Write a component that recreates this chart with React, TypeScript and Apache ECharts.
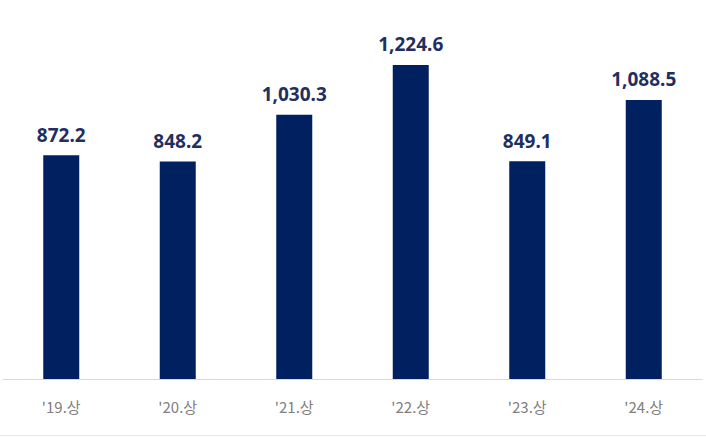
import React, { useEffect, useRef } from "react";
import * as echarts from "echarts";

const categories = ["'19.상", "'20.상", "'21.상", "'22.상", "'23.상", "'24.상"];
const values = [872.2, 848.2, 1030.3, 1224.6, 849.1, 1088.5];

export default function App() {
  const ref = useRef<HTMLDivElement>(null);
  useEffect(() => {
    if (!ref.current) return;
    const chart = echarts.init(ref.current, null, { renderer: "svg" });
    chart.setOption({
      animation: false,
      backgroundColor: "#ffffff",
      grid: { left: 3, right: 4, top: 20, bottom: 58, containLabel: false },
      xAxis: {
        type: "category",
        data: categories,
        axisLine: { show: true, lineStyle: { color: "#d9d9d9", width: 1 } },
        axisTick: { show: false },
        axisLabel: {
          color: "#808080",
          fontSize: 15,
          fontFamily: "Noto Sans CJK KR",
          margin: 20,
        },
      },
      yAxis: {
        type: "value",
        min: 0,
        max: 1400,
        show: false,
        splitLine: { show: false },
      },
      graphic: [
        {
          type: "line",
          shape: { x1: 0, y1: 435.5, x2: 706, y2: 435.5 },
          style: { stroke: "#e6e6e6", lineWidth: 1 },
        },
      ],
      series: [
        {
          type: "bar",
          data: values,
          barWidth: 36,
          itemStyle: { color: "#002060" },
          label: {
            show: true,
            position: "top",
            distance: 11,
            color: "#1f2f60",
            fontSize: 19,
            fontWeight: "bold",
            fontFamily: "Noto Sans",
            formatter: (p: any) =>
              p.value.toLocaleString("en-US", { minimumFractionDigits: 1, maximumFractionDigits: 1 }),
          },
        },
      ],
    });
    return () => chart.dispose();
  }, []);
  return (
    <div
      ref={ref}
      style={{ width: 706, height: 437, position: "fixed", left: 0, top: 0 }}
    />
  );
}
